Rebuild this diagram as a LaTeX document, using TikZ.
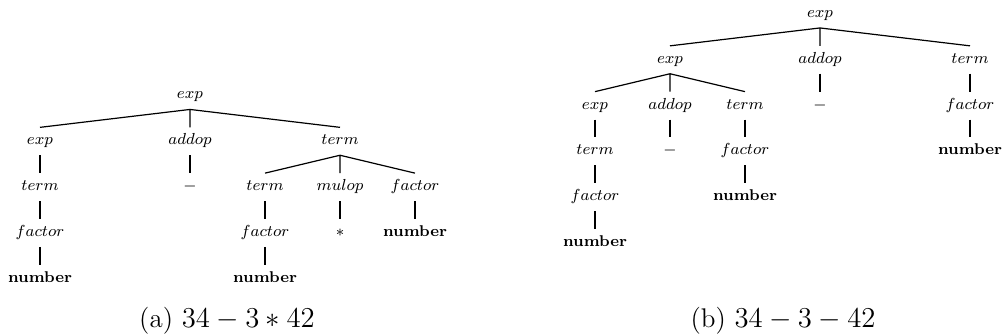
\documentclass[tikz,border=0pt]{standalone}
\usepackage{amsmath, amssymb}
\usepackage{tikz}

\tikzset{
  tn/.style={inner xsep=1pt, inner ysep=3pt, text height=5.5pt, text depth=2.05pt, font=\fontsize{7.8}{9}\selectfont},
  br/.style={line width=0.6pt},
  subcap/.style={anchor=base, inner sep=0pt, font=\fontsize{13.5}{16}\selectfont},
}

\begin{document}
\begin{tikzpicture}[x=37.5pt, y=-22.9pt]
\useasboundingbox (0pt,0pt) rectangle (501pt,-168pt);

	\begin{scope}[xshift=20pt, yshift=-47.75pt]
		% 语法树 (a)
		\node[tn] (a0) at (2,0) {$exp$};
		\node[tn] (a1) at (0,1) {$exp$};
		\node[tn] (a2) at (2,1) {$addop$};
		\node[tn] (a3) at (4,1) {$term$};
		\node[tn] (a11) at (0,2) {$term$};
		\node[tn] (a21) at (2,2) {$-$};
		\node[tn] (a31) at (3,2) {$term$};
		\node[tn] (a32) at (4,2) {$mulop$};
		\node[tn] (a33) at (5,2) {$factor$};
		\node[tn] (a111) at (0,3) {$factor$};
		\node[tn] (a311) at (3,3) {$factor$};
		\node[tn] (a321) at (4,3) {$*$};
		\node[tn] (a331) at (5,3) {\textbf{number}};
		\node[tn] (a1111) at (0,4) {\textbf{number}};
		\node[tn] (a3111) at (3,4) {\textbf{number}};
		% 分支
		\draw[br] (a0.south) -- (a1.north) (a0.south) -- (a2.north) (a0.south) -- (a3.north);
		\draw[br] (a3.south) -- (a31.north) (a3.south) -- (a32.north) (a3.south) -- (a33.north);
		\draw[br] (a1.south) -- (a11.north);
		\draw[br] (a11.south) -- (a111.north);
		\draw[br] (a111.south) -- (a1111.north);
		\draw[br] (a2.south) -- (a21.north);
		\draw[br] (a31.south) -- (a311.north);
		\draw[br] (a311.south) -- (a3111.north);
		\draw[br] (a32.south) -- (a321.north);
		\draw[br] (a33.south) -- (a331.north);
	\end{scope}

	\begin{scope}[xshift=297.5pt, yshift=-7pt]
		% 语法树 (b)
		\node[tn] (b0) at (3,0) {$exp$};
		\node[tn] (b1) at (1,1) {$exp$};
		\node[tn] (b2) at (3,1) {$addop$};
		\node[tn] (b3) at (5,1) {$term$};
		\node[tn] (b11) at (0,2) {$exp$};
		\node[tn] (b12) at (1,2) {$addop$};
		\node[tn] (b13) at (2,2) {$term$};
		\node[tn] (b21) at (3,2) {$-$};
		\node[tn] (b31) at (5,2) {$factor$};
		\node[tn] (b111) at (0,3) {$term$};
		\node[tn] (b121) at (1,3) {$-$};
		\node[tn] (b131) at (2,3) {$factor$};
		\node[tn] (b311) at (5,3) {\textbf{number}};
		\node[tn] (b1111) at (0,4) {$factor$};
		\node[tn] (b1311) at (2,4) {\textbf{number}};
		\node[tn] (b11111) at (0,5) {\textbf{number}};
		% 分支
		\draw[br] (b0.south) -- (b1.north) (b0.south) -- (b2.north) (b0.south) -- (b3.north);
		\draw[br] (b1.south) -- (b11.north) (b1.south) -- (b12.north) (b1.south) -- (b13.north);
		\draw[br] (b2.south) -- (b21.north);
		\draw[br] (b3.south) -- (b31.north);
		\draw[br] (b31.south) -- (b311.north);
		\draw[br] (b11.south) -- (b111.north);
		\draw[br] (b111.south) -- (b1111.north);
		\draw[br] (b1111.south) -- (b11111.north);
		\draw[br] (b12.south) -- (b121.north);
		\draw[br] (b13.south) -- (b131.north);
		\draw[br] (b131.south) -- (b1311.north);
	\end{scope}

	% 子图标题
	\node[subcap] (capa) at (113.5pt,-164pt) {(a) $34-3*42$};
	\node[subcap] (capb) at (391.5pt,-164pt) {(b) $34-3-42$};
\end{tikzpicture}
\end{document}
